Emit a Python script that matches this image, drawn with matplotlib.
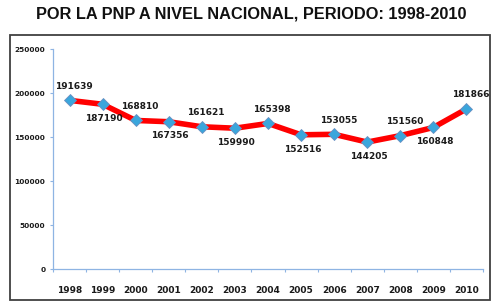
import matplotlib
matplotlib.use("Agg")
import matplotlib.pyplot as plt
from matplotlib.patches import Rectangle

years = ["1998", "1999", "2000", "2001", "2002", "2003", "2004",
         "2005", "2006", "2007", "2008", "2009", "2010"]
values = [191639, 187190, 168810, 167356, 161621, 159990, 165398,
          152516, 153055, 144205, 151560, 160848, 181866]
yticks = [0, 50000, 100000, 150000, 200000, 250000]
title = "POR LA PNP A NIVEL NACIONAL, PERIODO: 1998-2010"

fig = plt.figure(figsize=(5.02, 3.07), dpi=100)
fig.patch.set_facecolor("white")

# outer chart frame
fig.patches.append(Rectangle((10/502, 1-300/307), 480/502, 265/307,
                             transform=fig.transFigure, fill=False,
                             edgecolor="#404040", linewidth=1.3))

fig.text(0.5, 1-14/307, title, ha="center", va="center",
         fontsize=11.8, fontweight="bold", family="Liberation Sans", color="#111111")

ax = fig.add_axes([53/502, 1-269/307, 430/502, 220/307])
x = list(range(len(years)))
ax.plot(x, values, color="#ff0000", linewidth=4.0, zorder=2,
        solid_capstyle="round", solid_joinstyle="round")
ax.plot(x, values, linestyle="none", marker="D", markersize=6.5,
        markerfacecolor="#3aa6dc", markeredgecolor="#6a8fc0",
        markeredgewidth=0.6, zorder=3)

for i, v in enumerate(values):
    if i % 2 == 0:
        ax.annotate(str(v), (i, v), xytext=(3, 7), textcoords="offset points",
                    ha="center", va="bottom", fontsize=6.5, fontweight="bold",
                    color="#1a1a1a")
    else:
        ax.annotate(str(v), (i, v), xytext=(1, -7), textcoords="offset points",
                    ha="center", va="top", fontsize=6.5, fontweight="bold",
                    color="#1a1a1a")

ax.set_xlim(-0.5, len(years) - 0.5)
ax.set_ylim(0, 250000)
ax.set_yticks(yticks)
ax.set_yticklabels([str(t) for t in yticks], fontsize=5.3, fontweight="bold",
                   color="#1a1a1a")
ax.set_xticks(x)
ax.set_xticklabels(years, fontsize=6.5, fontweight="bold", color="#1a1a1a")
ax.tick_params(axis="x", length=0, pad=12)
ax.set_xticks([i - 0.5 for i in range(len(years) + 1)], minor=True)
ax.tick_params(axis="x", which="minor", length=2.5, color="#8eb4e3", width=0.8)
ax.tick_params(axis="y", length=2.5, color="#8eb4e3", width=0.8, pad=3)

for s in ["top", "right"]:
    ax.spines[s].set_visible(False)
for s in ["left", "bottom"]:
    ax.spines[s].set_color("#8eb4e3")
    ax.spines[s].set_linewidth(0.9)

fig.savefig("out.png", dpi=100, facecolor="white")
